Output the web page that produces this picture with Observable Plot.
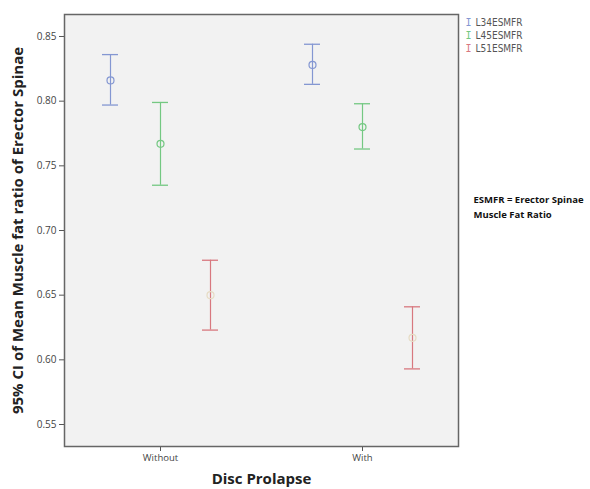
<!DOCTYPE html>
<html>
<head>
<meta charset="utf-8">
<script src="https://cdn.jsdelivr.net/npm/d3@7"></script>
<script src="https://cdn.jsdelivr.net/npm/@observablehq/plot@0.6"></script>
<style>
  body { margin: 0; background: #fff; }
  #chart svg { display: block; }
  g[aria-label="y-axis label"] text, g[aria-label="x-axis label"] text { font-weight: bold; font-size: 15px; fill: #222; font-family: "Open Sans", sans-serif; }
  g[aria-label="y-axis tick label"] text, g[aria-label="x-axis tick label"] text { fill: #444; }
</style>
</head>
<body>
<div id="chart"></div>
<script>
const groups = ["Without", "With"];
const seriesNames = ["L34ESMFR", "L45ESMFR", "L51ESMFR"];
const seriesColors = ["#8497d2", "#74c882", "#d8787f"];
const meanColors = ["#8497d2", "#74c882", "#e6dcc4"];
// values per series, in group order [Without, With]
const means = [[0.816, 0.828], [0.767, 0.780], [0.650, 0.617]];
const lowers = [[0.797, 0.813], [0.735, 0.763], [0.623, 0.593]];
const uppers = [[0.836, 0.844], [0.799, 0.798], [0.677, 0.641]];
const yTicks = [0.55, 0.60, 0.65, 0.70, 0.75, 0.80, 0.85];
const noteLines = ["ESMFR = Erector Spinae", "Muscle Fat Ratio"];

const seriesOffsets = [-50, 0, 50];

const marks = [Plot.frame({fill: "#f2f2f2", stroke: null})];
seriesNames.forEach((s, i) => {
  const rows = groups.map((g, j) => ({group: g, mean: means[i][j], lo: lowers[i][j], hi: uppers[i][j]}));
  const dx = seriesOffsets[i];
  marks.push(
    Plot.ruleX(rows, {x: "group", y1: "lo", y2: "hi", stroke: seriesColors[i], strokeWidth: 1.2, dx}),
    Plot.tickY(rows, {x: "group", y: "lo", stroke: seriesColors[i], strokeWidth: 1.3, dx}),
    Plot.tickY(rows, {x: "group", y: "hi", stroke: seriesColors[i], strokeWidth: 1.3, dx}),
    Plot.dot(rows, {x: "group", y: "mean", r: 3.5, stroke: meanColors[i], strokeWidth: 1.2, fill: "none", dx})
  );
});
// legend
seriesNames.forEach((s, i) => {
  marks.push(
    Plot.text([s], {frameAnchor: "top-right", text: () => "I", dx: 7, dy: 4 + 13 * i, fill: seriesColors[i], fontSize: 10, fontFamily: "DejaVu Sans Mono", textAnchor: "start", lineAnchor: "top"}),
    Plot.text([s], {frameAnchor: "top-right", text: d => d, dx: 17, dy: 4 + 13 * i, fill: "#555", fontSize: 10, fontFamily: "DejaVu Sans Condensed", textAnchor: "start", lineAnchor: "top"})
  );
});
noteLines.forEach((t, i) => {
  marks.push(Plot.text([t], {frameAnchor: "top-right", text: d => d, dx: 15, dy: 182 + 15 * i, fill: "#111", fontSize: 9.5, fontWeight: "bold", fontFamily: "Open Sans", textAnchor: "start", lineAnchor: "top"}));
});
marks.push(
  Plot.axisY({ticks: yTicks, tickFormat: d3.format(".2f"), tickSize: 5, tickPadding: 3, fontSize: 10, label: "95% CI of Mean Muscle fat ratio of Erector Spinae", labelAnchor: "center", labelArrow: "none", labelOffset: 52, stroke: "#555"}),
  Plot.axisX({tickSize: 5, tickPadding: 3, fontSize: 9.5, label: "Disc Prolapse", labelAnchor: "center", labelArrow: "none", labelOffset: 37, stroke: "#555"}),
  Plot.frame({stroke: "#666", strokeWidth: 1.5})
);

const chart = Plot.plot({
  width: 590,
  height: 489,
  marginLeft: 64,
  marginRight: 132,
  marginTop: 14,
  marginBottom: 43,
  style: {fontFamily: "Open Sans, sans-serif", background: "#fff"},
  x: {type: "band", domain: groups, paddingInner: 0.921, paddingOuter: 0.431},
  y: {domain: [0.533, 0.867]},
  marks
});
document.getElementById("chart").appendChild(chart);
</script>
</body>
</html>
